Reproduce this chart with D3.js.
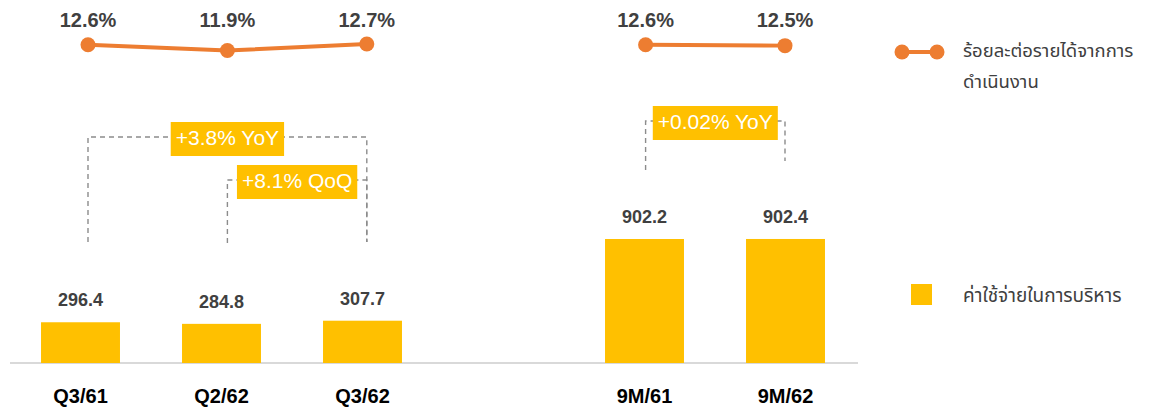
<!DOCTYPE html>
<html>
<head>
<meta charset="utf-8">
<script src="https://cdn.jsdelivr.net/npm/d3@7/dist/d3.min.js"></script>
<style>
  html, body { margin: 0; padding: 0; background: #fff; }
  svg { display: block; }
</style>
</head>
<body>
<svg id="chart" width="1150" height="408"></svg>
<script>
// ---------- data ----------
const categories = ["Q3/61", "Q2/62", "Q3/62", "", "9M/61", "9M/62"];
const expenseCategories = ["Q3/61", "Q2/62", "Q3/62", "9M/61", "9M/62"];
const expenseValues = [296.4, 284.8, 307.7, 902.2, 902.4];
const marginQuarterCats = ["Q3/61", "Q2/62", "Q3/62"];
const marginQuarterValues = [12.6, 11.9, 12.7];
const marginNineMonthCats = ["9M/61", "9M/62"];
const marginNineMonthValues = [12.6, 12.5];
const annotationLabels = ["+3.8% YoY", "+8.1% QoQ", "+0.02% YoY"];
const annotationFrom = ["Q3/61", "Q2/62", "9M/61"];
const annotationTo = ["Q3/62", "Q3/62", "9M/62"];
const legendLabels = ["ร้อยละต่อรายได้จากการ|ดำเนินงาน", "ค่าใช้จ่ายในการบริหาร"];

// ---------- layout ----------
const orange = "#ED7D31", gold = "#FFC000", dark = "#404040";
const svg = d3.select("#chart");
const latin = "Arial, 'Liberation Sans', sans-serif";
const thai = "'Noto Sans Thai', 'Leelawadee UI', Tahoma, 'DejaVu Sans', sans-serif";

const xBar = d3.scaleBand().domain(categories).range([10, 856]).paddingInner(0.44).paddingOuter(0.22);
const xLine = d3.scaleBand().domain(categories).range([18.3, 854.7]);
const xc = c => xBar(c) + xBar.bandwidth() / 2;
const xl = c => xLine(c) + xLine.bandwidth() / 2;

const yBar = d3.scaleLinear().domain([0, 902.2]).range([363, 239]);
const yLine = d3.scaleLinear().domain([11.9, 12.7]).range([50.5, 44]);

// baseline axis
const xAxis = d3.axisBottom(xBar).tickSize(0).tickPadding(20).tickFormat(d => d);
const gx = svg.append("g").attr("transform", "translate(0,363)").call(xAxis);
gx.select(".domain").attr("stroke", "#d9d9d9").attr("stroke-width", 2).attr("d", "M10,0H858");
gx.selectAll(".tick text")
  .attr("font-family", latin)
  .attr("font-weight", "bold").attr("font-size", 20).attr("fill", "#000")
  .attr("dy", 19.5);

// bars
const bars = expenseCategories.map((c, i) => ({ c, v: expenseValues[i] }));
svg.append("g").selectAll("rect").data(bars).join("rect")
  .attr("x", d => xBar(d.c)).attr("width", xBar.bandwidth())
  .attr("y", d => yBar(d.v)).attr("height", d => yBar(0) - yBar(d.v))
  .attr("fill", gold);
svg.append("g").selectAll("text").data(bars).join("text")
  .attr("x", d => xc(d.c)).attr("y", d => yBar(d.v) - 16)
  .attr("text-anchor", "middle").attr("font-family", latin).attr("font-weight", "bold")
  .attr("font-size", 18).attr("fill", dark)
  .text(d => d.v.toFixed(1));

// annotations (dashed brackets)
const bracketTop = [137, 180, 121];
const leftBottom = [242, 243, 170];
const rightBottom = [242, 242, 161];
const ga = svg.append("g");
annotationLabels.forEach((lab, i) => {
  const x1 = xl(annotationFrom[i]), x2 = xl(annotationTo[i]);
  const yt = bracketTop[i];
  ga.append("path")
    .attr("d", `M${x1},${leftBottom[i]}V${yt}H${x2}V${rightBottom[i]}`)
    .attr("fill", "none").attr("stroke", "#8c8c8c").attr("stroke-width", 1.4)
    .attr("stroke-dasharray", "5,4");
});
annotationLabels.forEach((lab, i) => {
  const x1 = xl(annotationFrom[i]), x2 = xl(annotationTo[i]);
  const cx = (x1 + x2) / 2, yt = bracketTop[i];
  const t = ga.append("text").attr("x", cx).attr("y", yt + 7.5)
    .attr("text-anchor", "middle").attr("font-family", latin).attr("font-size", 21)
    .attr("fill", "#fff").text(lab);
  const w = t.node().getComputedTextLength() + 10;
  ga.insert("rect", () => t.node())
    .attr("x", cx - w / 2).attr("y", yt - 15).attr("width", w).attr("height", 34)
    .attr("fill", gold);
});

// lines
const lineGen = d3.line().x(d => xl(d.c)).y(d => yLine(d.v));
const lineSets = [
  marginQuarterCats.map((c, i) => ({ c, v: marginQuarterValues[i] })),
  marginNineMonthCats.map((c, i) => ({ c, v: marginNineMonthValues[i] }))
];
const gl = svg.append("g");
lineSets.forEach(set => {
  gl.append("path").datum(set).attr("d", lineGen)
    .attr("fill", "none").attr("stroke", orange).attr("stroke-width", 4);
  gl.selectAll(null).data(set).join("circle")
    .attr("cx", d => xl(d.c)).attr("cy", d => yLine(d.v)).attr("r", 7.5).attr("fill", orange);
  gl.selectAll(null).data(set).join("text")
    .attr("x", d => xl(d.c)).attr("y", 27)
    .attr("text-anchor", "middle").attr("font-family", latin).attr("font-weight", "bold")
    .attr("font-size", 20).attr("fill", dark)
    .text(d => d.v.toFixed(1) + "%");
});

// legend
const lg = svg.append("g");
lg.append("line").attr("x1", 902).attr("x2", 937).attr("y1", 52).attr("y2", 52)
  .attr("stroke", orange).attr("stroke-width", 4);
[902, 937].forEach(x => lg.append("circle").attr("cx", x).attr("cy", 52).attr("r", 7.5).attr("fill", orange));
const l1 = legendLabels[0].split("|");
l1.forEach((s, i) => lg.append("text").attr("x", 963).attr("y", 57 + i * 31)
  .attr("font-family", thai).attr("font-size", 18.5).attr("fill", dark).text(s));
lg.append("rect").attr("x", 911).attr("y", 284).attr("width", 21).attr("height", 21).attr("fill", gold);
lg.append("text").attr("x", 963).attr("y", 302)
  .attr("font-family", thai).attr("font-size", 19).attr("fill", dark).text(legendLabels[1]);
</script>
</body>
</html>
